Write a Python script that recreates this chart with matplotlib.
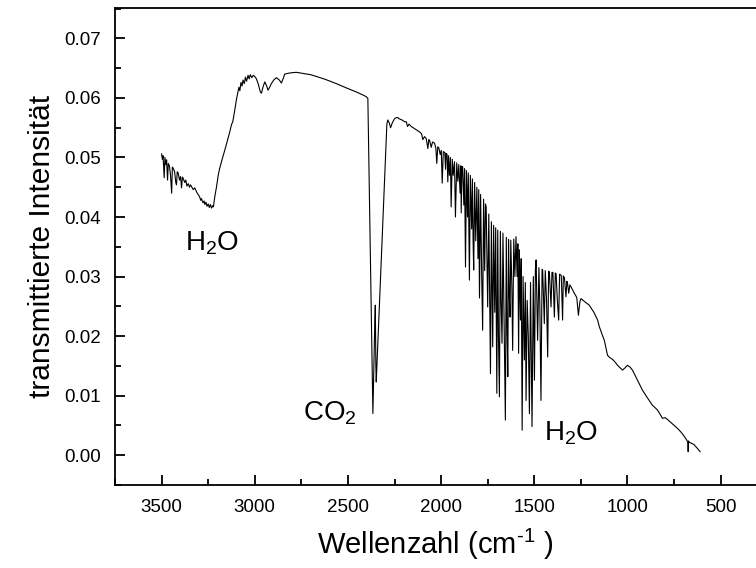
import numpy as np
import matplotlib
matplotlib.use("Agg")
from matplotlib import pyplot as plt
from matplotlib.ticker import MultipleLocator, FormatStrFormatter

plt.rcParams['font.family'] = ['Liberation Sans', 'DejaVu Sans']
plt.rcParams['mathtext.fontset'] = 'custom'
plt.rcParams['mathtext.rm'] = 'Liberation Sans'
plt.rcParams['mathtext.it'] = 'Liberation Sans'

# %% spectrum, segment by segment (wavenumber in cm^-1)
# O-H stretch region
wn_oh = [3500, 3496, 3492, 3486, 3482, 3477, 3473, 3468, 3464, 3458, 3452, 3446,
         3442, 3438, 3430, 3424, 3420, 3416, 3411, 3404, 3398, 3393, 3388, 3384,
         3376, 3370, 3364, 3357, 3350, 3345, 3339, 3330, 3322, 3312, 3304, 3296,
         3290, 3286, 3278, 3272, 3268, 3262, 3256, 3250, 3244, 3238, 3232, 3226,
         3222, 3214, 3205, 3196, 3188, 3175, 3161, 3148, 3134, 3125, 3118, 3107,
         3098, 3090]
tr_oh = [0.0506, 0.0497, 0.0503, 0.0466, 0.0500, 0.0488, 0.0496, 0.0462, 0.0490,
         0.0486, 0.0470, 0.0440, 0.0484, 0.0482, 0.0476, 0.0458, 0.0454, 0.0476,
         0.0474, 0.0462, 0.0468, 0.0449, 0.0467, 0.0465, 0.0458, 0.0462, 0.0452,
         0.0456, 0.0450, 0.0454, 0.0451, 0.0446, 0.0449, 0.0442, 0.0438, 0.0434,
         0.0428, 0.0431, 0.0424, 0.0427, 0.0421, 0.0425, 0.0418, 0.0422, 0.0416,
         0.0421, 0.0415, 0.0419, 0.0417, 0.0435, 0.0451, 0.0470, 0.0482, 0.0497,
         0.0512, 0.0527, 0.0543, 0.0555, 0.0560, 0.0580, 0.0598, 0.0610]

# plateau with C-H bands
wn_ch = [3085, 3080, 3074, 3068, 3063, 3056, 3050, 3044, 3036, 3030, 3024, 3016,
         3008, 3000, 2991, 2980, 2970, 2964, 2956, 2946, 2936, 2929, 2920, 2911,
         2898, 2884, 2868, 2857, 2848, 2839, 2810, 2777, 2740, 2700, 2669, 2620,
         2562, 2510, 2455, 2420, 2401, 2393]
tr_ch = [0.0618, 0.0612, 0.0626, 0.0620, 0.0630, 0.0624, 0.0635, 0.0628, 0.0638,
         0.0632, 0.0639, 0.0634, 0.0638, 0.0636, 0.0632, 0.0622, 0.0610, 0.0608,
         0.0618, 0.0627, 0.0620, 0.0613, 0.0618, 0.0624, 0.0630, 0.0634, 0.0630,
         0.0625, 0.0632, 0.0640, 0.0642, 0.0643, 0.0641, 0.0639, 0.0636, 0.0631,
         0.0624, 0.0617, 0.0610, 0.0605, 0.0602, 0.0599]

# CO2 band
wn_co2 = [2380, 2372, 2366, 2360, 2356, 2353, 2350, 2348, 2340, 2330, 2320, 2310,
          2300, 2291, 2286, 2278, 2271, 2262, 2250, 2240, 2232]
tr_co2 = [0.0344, 0.0182, 0.0070, 0.0160, 0.0220, 0.0252, 0.0150, 0.0123, 0.0184,
          0.0260, 0.0336, 0.0412, 0.0488, 0.0556, 0.0563, 0.0558, 0.0550, 0.0558,
          0.0565, 0.0567, 0.0567]

# water bending lines, upper part
wn_w1 = [2225, 2210, 2196, 2187, 2180, 2172, 2160, 2140, 2125, 2116, 2105, 2098,
         2089, 2080, 2071, 2066, 2062, 2053, 2046, 2035, 2028, 2023, 2018, 2012,
         2005, 1999, 1994, 1988, 1980, 1976, 1973, 1968, 1964, 1960, 1955, 1950,
         1946, 1940, 1935, 1928, 1923, 1916, 1910, 1905, 1898, 1894, 1892, 1888,
         1884, 1878, 1874, 1869, 1864, 1858, 1854, 1848, 1843, 1836, 1832, 1828,
         1825, 1820, 1814, 1808, 1802, 1798, 1794, 1788, 1782, 1777, 1772, 1766,
         1762, 1758, 1750, 1744, 1740, 1735, 1730, 1723, 1718, 1712, 1707, 1701,
         1696, 1692, 1687, 1682, 1678, 1673, 1668, 1662, 1655, 1650, 1646, 1642,
         1638, 1634, 1630, 1626, 1620, 1616, 1610, 1604, 1598]
tr_w1 = [0.0565, 0.0563, 0.0560, 0.0560, 0.0552, 0.0556, 0.0552, 0.0548, 0.0545,
         0.0543, 0.0540, 0.0530, 0.0535, 0.0532, 0.0515, 0.0530, 0.0529, 0.0517,
         0.0526, 0.0524, 0.0515, 0.0490, 0.0518, 0.0516, 0.0505, 0.0512, 0.0457,
         0.0510, 0.0508, 0.0480, 0.0507, 0.0505, 0.0459, 0.0503, 0.0470, 0.0500,
         0.0417, 0.0497, 0.0470, 0.0493, 0.0400, 0.0491, 0.0460, 0.0488, 0.0440,
         0.0486, 0.0407, 0.0485, 0.0484, 0.0420, 0.0481, 0.0316, 0.0478, 0.0400,
         0.0474, 0.0294, 0.0470, 0.0380, 0.0464, 0.0356, 0.0311, 0.0458, 0.0360,
         0.0450, 0.0330, 0.0446, 0.0264, 0.0438, 0.0300, 0.0210, 0.0430, 0.0310,
         0.0422, 0.0417, 0.0249, 0.0405, 0.0280, 0.0137, 0.0392, 0.0182, 0.0386,
         0.0240, 0.0382, 0.0104, 0.0378, 0.0200, 0.0098, 0.0376, 0.0260, 0.0188,
         0.0373, 0.0230, 0.0059, 0.0366, 0.0210, 0.0132, 0.0362, 0.0270, 0.0232,
         0.0361, 0.0280, 0.0176, 0.0363, 0.0300, 0.0367]

# water bending lines, lower part
wn_w2 = [1592, 1588, 1584, 1580, 1574, 1570, 1565, 1560, 1553, 1548, 1544, 1538,
         1532, 1526, 1520, 1512, 1505, 1499, 1494, 1490, 1482, 1475, 1470, 1464,
         1458, 1455, 1446, 1441, 1434, 1428, 1423, 1419, 1410, 1405, 1400, 1392,
         1387, 1383, 1376, 1369, 1364, 1355, 1348, 1344, 1338, 1330, 1325, 1321,
         1315, 1309, 1303]
tr_w2 = [0.0300, 0.0355, 0.0171, 0.0345, 0.0227, 0.0330, 0.0042, 0.0300, 0.0160,
         0.0290, 0.0092, 0.0260, 0.0200, 0.0070, 0.0290, 0.0048, 0.0300, 0.0126,
         0.0310, 0.0328, 0.0193, 0.0315, 0.0250, 0.0092, 0.0312, 0.0311, 0.0221,
         0.0310, 0.0260, 0.0165, 0.0309, 0.0308, 0.0249, 0.0307, 0.0307, 0.0232,
         0.0306, 0.0305, 0.0260, 0.0227, 0.0304, 0.0302, 0.0227, 0.0301, 0.0298,
         0.0266, 0.0292, 0.0288, 0.0272, 0.0286, 0.0283]

# low wavenumber tail
wn_tail = [1295, 1285, 1272, 1263, 1255, 1249, 1230, 1205, 1180, 1160, 1151, 1135,
           1124, 1107, 1095, 1080, 1065, 1053, 1040, 1026, 1012, 1000, 986, 973,
           946, 919, 892, 866, 852, 839, 825, 812, 798, 785, 767, 749, 731, 713,
           698, 683, 676, 674, 672, 669, 656, 643, 626, 610]
tr_tail = [0.0278, 0.0272, 0.0265, 0.0235, 0.0258, 0.0263, 0.0258, 0.0252, 0.0240,
           0.0227, 0.0216, 0.0202, 0.0193, 0.0168, 0.0164, 0.0161, 0.0156, 0.0151,
           0.0147, 0.0143, 0.0147, 0.0151, 0.0148, 0.0143, 0.0126, 0.0109, 0.0096,
           0.0084, 0.0080, 0.0076, 0.0069, 0.0062, 0.0063, 0.0060, 0.0055, 0.0050,
           0.0045, 0.0039, 0.0033, 0.0026, 0.0022, 0.0006, 0.0024, 0.0022, 0.0020,
           0.0018, 0.0012, 0.0006]

wn = np.concatenate([wn_oh, wn_ch, wn_co2, wn_w1, wn_w2, wn_tail])
tr = np.concatenate([tr_oh, tr_ch, tr_co2, tr_w1, tr_w2, tr_tail])

# %%
fig = plt.figure(figsize=(7.56, 5.68), dpi=100)
ax = fig.add_axes([115 / 756, 83 / 568, 641 / 756, 477 / 568])

ax.plot(wn, tr, color='black', linewidth=0.8)

ax.set_xlim(3750, 310)
ax.set_ylim(-0.005, 0.0751)
ax.xaxis.set_major_locator(MultipleLocator(500))
ax.xaxis.set_minor_locator(MultipleLocator(250))
ax.yaxis.set_major_locator(MultipleLocator(0.01))
ax.yaxis.set_minor_locator(MultipleLocator(0.005))
ax.yaxis.set_major_formatter(FormatStrFormatter('%.2f'))

ax.spines['right'].set_visible(False)
for s in ax.spines.values():
    s.set_linewidth(1.3)
ax.tick_params(which='both', direction='in', top=False, right=False,
               width=1.3, labelsize=13.5, pad=10)
ax.tick_params(which='major', length=7)
ax.tick_params(which='minor', length=4.5)

ax.set_xlabel('Wellenzahl (cm$^{\\text{-1}}$ )', fontsize=21, labelpad=8)
ax.set_ylabel('transmittierte Intensität', fontsize=21.5, labelpad=6)

ax.text(3375, 0.0344, 'H$_2$O', fontsize=20, ha='left', va='baseline')
ax.text(2743, 0.0059, 'CO$_2$', fontsize=20, ha='left', va='baseline')
ax.text(1446, 0.0024, 'H$_2$O', fontsize=20, ha='left', va='baseline')

fig.savefig('out.png', dpi=100)
